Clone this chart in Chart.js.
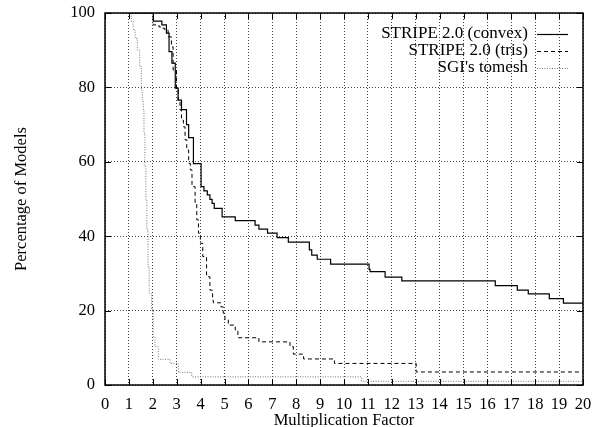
<!DOCTYPE html>
<html>
<head>
<meta charset="utf-8">
<script src="https://cdn.jsdelivr.net/npm/chart.js@4.4.1/dist/chart.umd.min.js"></script>
<style>
  html, body { margin: 0; padding: 0; background: #fff; }
  #wrap { width: 606px; height: 427px; }
</style>
</head>
<body>
<div id="wrap"><canvas id="chart" width="606" height="427"></canvas></div>
<script>
// --- data (x = multiplication factor, y = % of models) ---
// each point: at this x the curve steps down to this y
const seriesNames = ['STRIPE 2.0 (convex)', 'STRIPE 2.0 (tris)', "SGI's tomesh"];

const convexX = [1, 2.02, 2.38, 2.57, 2.68, 2.8, 2.94, 3.06, 3.2, 3.41, 3.5, 3.7, 4.02, 4.14, 4.28, 4.39, 4.48, 4.57, 4.9, 5.45, 6.28, 6.44, 6.8, 7.2, 7.67, 8.55, 8.65, 8.88, 9.44, 11.05, 11.09, 11.72, 12.42, 16.33, 17.25, 17.71, 18.59, 19.18, 20];
const convexY = [100, 97.8, 96.8, 94.6, 89.6, 86.5, 79.8, 76.6, 74, 70, 66.5, 59.5, 53.3, 52.2, 51.1, 49.9, 48.8, 47.5, 45.2, 44.2, 43.0, 41.9, 40.8, 39.6, 38.4, 36.3, 34.9, 33.8, 32.5, 31.1, 30.5, 29.0, 28.0, 26.7, 25.5, 24.5, 23.2, 22.0, 22.0];

const trisX = [1, 2.02, 2.2, 2.3, 2.5, 2.64, 2.78, 2.85, 2.99, 3.06, 3.14, 3.2, 3.28, 3.35, 3.42, 3.5, 3.57, 3.64, 3.77, 3.84, 3.91, 3.99, 4.09, 4.25, 4.39, 4.5, 4.53, 4.85, 4.95, 5.02, 5.16, 5.45, 5.56, 6.44, 7.74, 7.88, 8.31, 9.6, 13.02, 20];
const trisY = [100, 96.8, 96.5, 95.9, 95.4, 93.6, 90.9, 84.7, 79.8, 76.6, 73.9, 71.2, 69.4, 65.9, 63.2, 59.6, 57.8, 53.3, 48.8, 44.4, 40.8, 38.1, 34.5, 29.1, 25.5, 22.8, 22.1, 21.0, 19.3, 17.5, 16.1, 14.8, 12.7, 11.6, 10.3, 8.3, 7.0, 5.8, 3.5, 3.5];

const sgiX = [1, 1.1, 1.18, 1.26, 1.35, 1.45, 1.52, 1.56, 1.6, 1.63, 1.67, 1.71, 1.75, 1.8, 1.85, 1.95, 2.02, 2.09, 2.23, 2.72, 3.07, 3.63, 10.74, 20];
const sgiY = [100, 97.7, 95.4, 93.2, 90, 85.6, 79.3, 76.6, 73.9, 67.7, 58.7, 49.7, 41.7, 31.8, 24.6, 20.2, 13.0, 10.3, 6.9, 5.8, 3.4, 2.2, 1.0, 1.0];

const xTicks = [0, 1, 2, 3, 4, 5, 6, 7, 8, 9, 10, 11, 12, 13, 14, 15, 16, 17, 18, 19, 20];
const yTicks = [0, 20, 40, 60, 80, 100];

const serif = "'Liberation Serif', 'DejaVu Serif', serif";

function pts(xs, ys) {
    return xs.map((x, i) => ({ x: x, y: ys[i] }));
}

// frame, inside ticks and key, gnuplot style
const framePlugin = {
    id: 'frame',
    afterDatasetsDraw(chart) {
        const { ctx, chartArea: a, scales } = chart;
        ctx.save();
        ctx.strokeStyle = '#000';
        ctx.lineWidth = 1;
        ctx.setLineDash([]);
        ctx.beginPath();
        xTicks.forEach(v => {
            const px = Math.round(scales.x.getPixelForValue(v)) + 0.5;
            ctx.moveTo(px, a.bottom); ctx.lineTo(px, a.bottom - 6);
            ctx.moveTo(px, a.top); ctx.lineTo(px, a.top + 6);
        });
        yTicks.forEach(v => {
            const py = Math.round(scales.y.getPixelForValue(v)) + 0.5;
            ctx.moveTo(a.left, py); ctx.lineTo(a.left + 6, py);
            ctx.moveTo(a.right, py); ctx.lineTo(a.right - 6, py);
        });
        ctx.stroke();
        ctx.lineWidth = 1.5;
        ctx.strokeRect(a.left, a.top, a.right - a.left, a.bottom - a.top);

        // key
        ctx.font = '17px ' + serif;
        ctx.textAlign = 'right';
        ctx.textBaseline = 'middle';
        ctx.fillStyle = '#000';
        chart.data.datasets.forEach((ds, i) => {
            const y = a.top + 21 + i * 17;
            ctx.fillText(ds.label, a.right - 55, y);
            ctx.strokeStyle = ds.borderColor;
            ctx.lineWidth = ds.borderWidth;
            ctx.setLineDash(ds.borderDash || []);
            ctx.beginPath();
            ctx.moveTo(a.right - 46, Math.round(y) + 0.5);
            ctx.lineTo(a.right - 15, Math.round(y) + 0.5);
            ctx.stroke();
        });
        ctx.restore();
    }
};

new Chart(document.getElementById('chart'), {
    type: 'line',
    data: {
        datasets: [
            { label: seriesNames[0], data: pts(convexX, convexY), borderColor: '#000', borderWidth: 1.2, stepped: 'before' },
            { label: seriesNames[1], data: pts(trisX, trisY), borderColor: '#000', borderWidth: 1, borderDash: [4, 3], stepped: 'before' },
            { label: seriesNames[2], data: pts(sgiX, sgiY), borderColor: '#777', borderWidth: 1, borderDash: [1, 1.5], stepped: 'before' }
        ]
    },
    options: {
        responsive: false,
        animation: false,
        layout: { padding: { top: 13, right: 23, left: 0, bottom: 0 } },
        elements: { point: { radius: 0 } },
        plugins: { legend: { display: false }, tooltip: { enabled: false } },
        scales: {
            x: {
                type: 'linear', min: 0, max: 20,
                afterBuildTicks: s => { s.ticks = xTicks.map(v => ({ value: v })); },
                afterFit: s => { s.height = 42; s.paddingLeft = 0; s.paddingRight = 0; },
                grid: { color: '#444', lineWidth: 1, tickLength: 0, drawTicks: false },
                border: { display: false, dash: [1, 2] },
                ticks: { color: '#000', padding: 10, maxRotation: 0, autoSkip: false, font: { family: serif, size: 16.5 } },
                title: { display: true, text: 'Multiplication Factor', color: '#000', padding: { top: 0, bottom: -1.5 }, font: { family: serif, size: 16.5, lineHeight: 1 } }
            },
            y: {
                type: 'linear', min: 0, max: 100,
                afterBuildTicks: s => { s.ticks = yTicks.map(v => ({ value: v })); },
                afterFit: s => { s.width = 105; s.paddingTop = 0; s.paddingBottom = 0; },
                grid: { color: '#444', lineWidth: 1, tickLength: 0, drawTicks: false },
                border: { display: false, dash: [1, 2] },
                ticks: { color: '#000', padding: 10, font: { family: serif, size: 16.5 } },
                title: { display: true, text: 'Percentage of Models', color: '#000', padding: { top: 12, bottom: 0 }, font: { family: serif, size: 16.5 } }
            }
        }
    },
    plugins: [framePlugin]
});
</script>
</body>
</html>
